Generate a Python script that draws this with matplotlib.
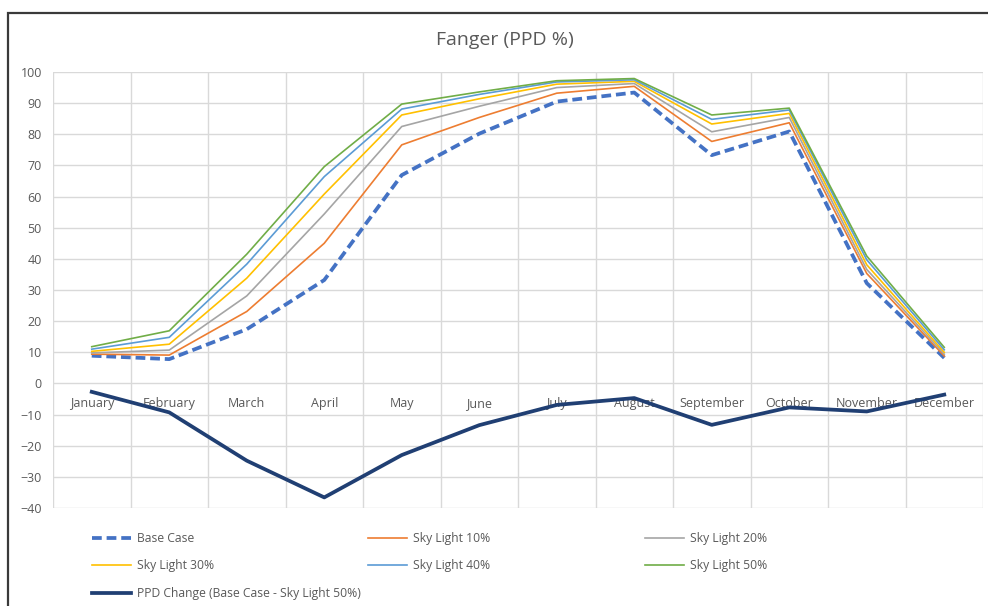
import matplotlib
matplotlib.use("Agg")
import matplotlib.pyplot as plt
from matplotlib.patches import Rectangle

plt.rcParams['font.family'] = ['Open Sans', 'DejaVu Sans']

months = ["January", "February", "March", "April", "May", "June", "July",
          "August", "September", "October", "November", "December"]
base_case = [8.9, 7.8, 17.4, 33.2, 66.9, 80.2, 90.5, 93.4, 73.3, 80.9, 32.2, 8.2]
sky10 = [9.4, 9.1, 23.1, 45.0, 76.6, 85.4, 93.2, 95.4, 77.7, 83.7, 35.3, 8.8]
sky20 = [9.8, 10.7, 28.1, 54.4, 82.5, 89.0, 95.0, 96.3, 80.8, 85.4, 36.6, 9.4]
sky30 = [10.3, 12.6, 33.8, 60.8, 86.2, 91.4, 96.1, 97.0, 83.3, 86.7, 38.1, 10.0]
sky40 = [11.0, 14.8, 38.3, 66.4, 88.1, 92.8, 96.8, 97.5, 84.8, 87.8, 39.7, 10.8]
sky50 = [11.8, 16.9, 41.5, 69.6, 89.7, 93.6, 97.2, 97.9, 86.2, 88.4, 40.9, 11.6]
ppd_change = [-2.7, -9.3, -24.8, -36.6, -23.0, -13.4, -6.9, -4.7, -13.3, -7.7, -9.0, -3.6]
yticks = list(range(-40, 101, 10))

TXT = "#595959"
fig = plt.figure(figsize=(9.88, 6.06), dpi=100)
fig.patch.set_facecolor("white")

# outer chart frame
fig.add_artist(Rectangle((8 / 988, -0.02), 1.2, (606 - 13) / 606 + 0.02,
                         transform=fig.transFigure, fill=False,
                         edgecolor="#3a3a3a", linewidth=1.6))

ax = fig.add_axes([53 / 988, (606 - 508) / 606, 930 / 988, 436 / 606])
x = list(range(len(months)))

ax.plot(x, base_case, color="#4472C4", lw=2.7, linestyle=(0, (2.6, 1.3)),
        label="Base Case", zorder=3)
ax.plot(x, sky10, color="#ED7D31", lw=1.2, label="Sky Light 10%", zorder=4)
ax.plot(x, sky20, color="#A5A5A5", lw=1.2, label="Sky Light 20%", zorder=4)
ax.plot(x, sky30, color="#FFC000", lw=1.2, label="Sky Light 30%", zorder=4)
ax.plot(x, sky40, color="#5B9BD5", lw=1.2, label="Sky Light 40%", zorder=4)
ax.plot(x, sky50, color="#70AD47", lw=1.2, label="Sky Light 50%", zorder=4)
ax.plot(x, ppd_change, color="#203F73", lw=2.7,
        label="PPD Change (Base Case - Sky Light 50%)", zorder=5)

ax.set_xlim(-0.5, len(months) - 0.5)
ax.set_ylim(-40, 100)
ax.set_yticks(yticks)
ax.set_xticks(x)
ax.set_xticklabels(months)
ax.set_xticks([i - 0.5 for i in range(len(months) + 1)], minor=True)
ax.grid(which="minor", axis="x", color="#D9D9D9", lw=1.0)
ax.grid(which="major", axis="y", color="#D9D9D9", lw=1.0)
ax.set_axisbelow(True)

for s in ["top", "right", "left"]:
    ax.spines[s].set_visible(False)
ax.spines["bottom"].set_position(("data", 0))
ax.spines["bottom"].set_visible(False)
ax.tick_params(axis="both", which="both", length=0, labelcolor=TXT, labelsize=9)
ax.tick_params(axis="x", pad=10)
ax.tick_params(axis="y", pad=8)

fig.text(505 / 988, 1 - 40 / 606, "Fanger (PPD %)", ha="center", va="center",
         fontsize=14, color=TXT)

handles, labels = ax.get_legend_handles_labels()
cols = [[0, 3, 6], [1, 4], [2, 5]]
col_x = [92, 368, 645]
for cx, idx in zip(col_x, cols):
    leg = fig.legend([handles[i] for i in idx], [labels[i] for i in idx],
                     loc="upper left", bbox_to_anchor=(cx / 988, 1 - 532 / 606),
                     frameon=False, fontsize=8.7, handlelength=3.2,
                     handletextpad=0.5, labelspacing=1.2, borderpad=0,
                     borderaxespad=0)
    for t in leg.get_texts():
        t.set_color(TXT)

fig.savefig("out.png", dpi=100, facecolor="white")
